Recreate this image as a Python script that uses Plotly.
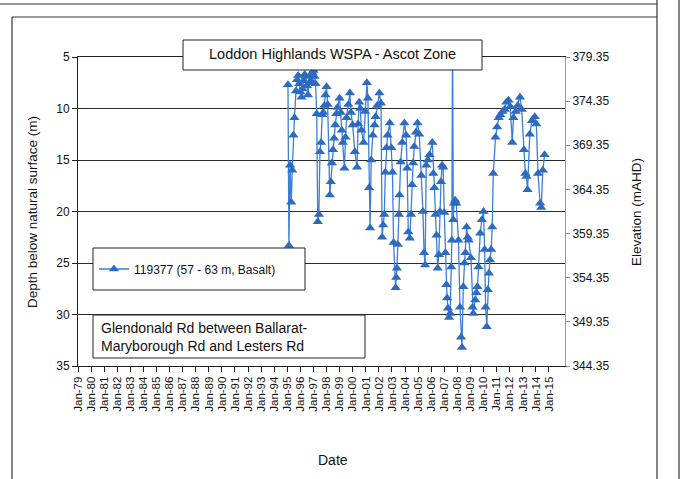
import plotly.graph_objects as go

# ---------------- data ----------------
dates = [
    "1995-01-20", "1995-02-15", "1995-03-20", "1995-04-20", "1995-05-20", "1995-06-20", "1995-07-20",
    "1995-09-01", "1995-10-01", "1995-11-01", "1995-12-01",
    "1996-01-01", "1996-02-01", "1996-03-01", "1996-04-01", "1996-05-01", "1996-06-01", "1996-07-01",
    "1996-08-01", "1996-09-01", "1996-10-01", "1996-11-01", "1996-12-01",
    "1997-01-01", "1997-02-01", "1997-03-01", "1997-04-01", "1997-05-01", "1997-06-01", "1997-07-01",
    "1997-08-01", "1997-09-01", "1997-10-01", "1997-11-01", "1997-12-01",
    "1998-01-01", "1998-02-01", "1998-04-01", "1998-05-01", "1998-06-01", "1998-07-01", "1998-08-01",
    "1998-09-01", "1998-10-01", "1998-11-01",
    "1999-01-01", "1999-02-01", "1999-03-01", "1999-04-01", "1999-05-15", "1999-06-15", "1999-07-15",
    "1999-09-01", "1999-10-15", "1999-11-15",
    "2000-01-01", "2000-03-01", "2000-05-01", "2000-06-01", "2000-07-01", "2000-08-01", "2000-09-01",
    "2000-11-01", "2000-12-15",
    "2001-02-01", "2001-03-01", "2001-04-01", "2001-05-01", "2001-06-01", "2001-07-15", "2001-09-01",
    "2001-10-01", "2001-11-15",
    "2002-01-15", "2002-03-01", "2002-04-01", "2002-05-01", "2002-06-01", "2002-07-01", "2002-08-01",
    "2002-09-01", "2002-11-01", "2002-12-15",
    "2003-01-15", "2003-02-15", "2003-04-15", "2003-05-01", "2003-05-20", "2003-06-15", "2003-07-15",
    "2003-08-01", "2003-09-01", "2003-10-15", "2003-12-15",
    "2004-02-01", "2004-03-01", "2004-04-01", "2004-05-15", "2004-06-15", "2004-07-15", "2004-08-15",
    "2004-09-15", "2004-11-01", "2004-12-15",
    "2005-02-01", "2005-04-01", "2005-05-15", "2005-06-15", "2005-07-15", "2005-08-15", "2005-10-01",
    "2005-11-15",
    "2006-02-01", "2006-03-01", "2006-04-01", "2006-05-01", "2006-06-01", "2006-07-01", "2006-08-01",
    "2006-09-01", "2006-10-01", "2006-11-01", "2006-12-01",
    "2007-01-01", "2007-02-01", "2007-03-01", "2007-03-20", "2007-04-15", "2007-05-15", "2007-06-15",
    "2007-07-15", "2007-08-01", "2007-08-20", "2007-09-10", "2007-10-01", "2007-11-01", "2007-12-01",
    "2008-02-01", "2008-03-15", "2008-04-15", "2008-05-10", "2008-06-15", "2008-07-15", "2008-08-15",
    "2008-09-15", "2008-10-15", "2008-11-15",
    "2009-01-15", "2009-03-01", "2009-03-20", "2009-05-15", "2009-06-15", "2009-07-15", "2009-08-15",
    "2009-10-01", "2009-11-15",
    "2010-01-01", "2010-02-01", "2010-03-01", "2010-04-01", "2010-05-01", "2010-06-01", "2010-07-01",
    "2010-08-01", "2010-09-01", "2010-10-01", "2010-12-01",
    "2011-01-15", "2011-03-01", "2011-04-15", "2011-06-15", "2011-08-15", "2011-10-01", "2011-12-01",
    "2012-01-15", "2012-03-15", "2012-04-15", "2012-06-15", "2012-08-15", "2012-10-15", "2012-12-01",
    "2013-02-01", "2013-03-15", "2013-04-15", "2013-05-15", "2013-07-15", "2013-09-15", "2013-12-01",
    "2014-01-15", "2014-03-01", "2014-05-01", "2014-06-01", "2014-07-15", "2014-09-01",
]

depth_m = [
    7.7, 23.3, 15.5, 19.1, 16.0, 12.6, 10.9,
    8.3, 7.2, 6.8, 7.6,
    8.4, 8.9, 8.1, 7.3, 6.7, 6.9, 7.8,
    8.7, 7.5, 6.8, 7.3, 6.5,
    6.3, 6.9, 7.6, 10.5, 21.0, 20.3, 14.2,
    13.3, 10.6, 10.4, 9.7, 8.7,
    7.9, 9.6, 18.4, 17.1, 15.3, 14.0, 12.9,
    11.6, 10.5, 9.9,
    9.0, 10.4, 12.1, 13.3, 15.8, 12.8, 10.9,
    9.6, 8.5, 10.4,
    11.6, 14.2, 15.7, 11.5, 9.4, 10.0, 12.1,
    13.3, 10.3,
    7.5, 9.0, 17.7, 21.6, 15.0, 12.6, 11.6,
    10.8, 9.7,
    8.5, 9.5, 22.5, 21.3, 20.3, 16.2, 13.8,
    12.6, 11.4, 13.8,
    16.2, 23.0, 27.4, 26.4, 25.5, 23.2, 20.3,
    18.4, 15.2, 13.3, 11.4,
    12.6, 15.8, 22.0, 22.6, 20.3, 17.4, 15.3,
    13.7, 12.3, 11.4,
    12.5, 16.5, 20.0, 24.0, 25.2, 15.5, 15.0,
    14.5,
    13.3, 16.3, 17.7, 20.3, 22.3, 25.5, 24.2,
    20.0, 17.1, 15.5, 15.7,
    20.1, 24.0, 27.1, 28.4, 29.4, 30.3, 29.9,
    25.4, 22.8, 2.0, 20.8, 19.2, 18.9, 19.2,
    22.8, 29.3, 32.2, 33.2, 27.3, 25.0, 24.0,
    21.5, 22.5, 22.8,
    24.5, 29.3, 29.9, 28.6, 27.9, 27.3, 25.4,
    22.1, 20.8,
    20.0, 23.7, 29.3, 31.2, 27.6, 26.0, 24.7,
    23.7, 21.5, 16.3, 12.8,
    11.8, 10.9, 10.6, 10.3, 10.1, 9.4, 9.2,
    9.8, 13.3, 10.9, 10.3, 9.7, 8.9, 10.1,
    14.0, 16.3, 16.6, 17.9, 12.5, 11.2, 10.8,
    11.5, 16.3, 19.2, 19.6, 16.0, 14.5,
]

surface_elevation = 384.35  # mAHD of natural surface (depth 0)

tick_dates = [
    "1979-01-01", "1980-01-01", "1981-01-01", "1982-01-01", "1983-01-01", "1984-01-01",
    "1985-01-01", "1986-01-01", "1987-01-01", "1988-01-01", "1989-01-01", "1990-01-01",
    "1991-01-01", "1992-01-01", "1993-01-01", "1994-01-01", "1995-01-01", "1996-01-01",
    "1997-01-01", "1998-01-01", "1999-01-01", "2000-01-01", "2001-01-01", "2002-01-01",
    "2003-01-01", "2004-01-01", "2005-01-01", "2006-01-01", "2007-01-01", "2008-01-01",
    "2009-01-01", "2010-01-01", "2011-01-01", "2012-01-01", "2013-01-01", "2014-01-01",
    "2015-01-01",
]
tick_labels = [
    "Jan-79", "Jan-80", "Jan-81", "Jan-82", "Jan-83", "Jan-84", "Jan-85", "Jan-86", "Jan-87",
    "Jan-88", "Jan-89", "Jan-90", "Jan-91", "Jan-92", "Jan-93", "Jan-94", "Jan-95", "Jan-96",
    "Jan-97", "Jan-98", "Jan-99", "Jan-00", "Jan-01", "Jan-02", "Jan-03", "Jan-04", "Jan-05",
    "Jan-06", "Jan-07", "Jan-08", "Jan-09", "Jan-10", "Jan-11", "Jan-12", "Jan-13", "Jan-14",
    "Jan-15",
]
depth_ticks = [5, 10, 15, 20, 25, 30, 35]
elev_ticks = [344.35, 349.35, 354.35, 359.35, 364.35, 369.35, 374.35, 379.35]
elev_labels = ["344.35", "349.35", "354.35", "359.35", "364.35", "369.35", "374.35", "379.35"]

series_name = "119377 (57 - 63 m, Basalt)"
title_text = "Loddon Highlands WSPA - Ascot Zone"
note_text = "Glendonald Rd between Ballarat-<br>Maryborough Rd and Lesters Rd"

# ---------------- layout geometry (pixels) ----------------
W, H = 693, 479
ML, MR, MT, MB = 78, 128, 57, 113
PW, PH = W - ML - MR, H - MT - MB


def px(x):
    return (x - ML) / PW


def py(y):
    return (H - MB - y) / PH


FONT = "Liberation Sans, Arial, sans-serif"
BLUE = "#2D6BC1"
LINEBLUE = "#3D7ED6"

fig = go.Figure()
fig.add_trace(go.Scatter(
    x=dates, y=depth_m, name=series_name, mode="lines+markers",
    line=dict(color=LINEBLUE, width=1.3),
    marker=dict(symbol="triangle-up", size=9, color=BLUE),
))
# elevation axis companion (invisible)
fig.add_trace(go.Scatter(
    x=dates, y=[surface_elevation - d for d in depth_m], yaxis="y2", mode="lines",
    line=dict(width=0, color="rgba(0,0,0,0)"), showlegend=False, hoverinfo="skip",
))

shapes = []
line_col = "#333333"
shapes.append(dict(type="line", xref="paper", yref="paper", x0=px(0), x1=px(657), y0=py(4), y1=py(4),
                   line=dict(color=line_col, width=1.2), layer="above"))
shapes.append(dict(type="line", xref="paper", yref="paper", x0=px(657), x1=px(657), y0=py(0), y1=py(479),
                   line=dict(color=line_col, width=1.2), layer="above"))
shapes.append(dict(type="line", xref="paper", yref="paper", x0=px(679), x1=px(679), y0=py(0), y1=py(479),
                   line=dict(color=line_col, width=1.2), layer="above"))
shapes.append(dict(type="line", xref="paper", yref="paper", x0=px(12), x1=px(657), y0=py(17), y1=py(17),
                   line=dict(color=line_col, width=1.2), layer="above"))
shapes.append(dict(type="line", xref="paper", yref="paper", x0=px(12), x1=px(12), y0=py(17), y1=py(479),
                   line=dict(color=line_col, width=1.2), layer="above"))
# title box
shapes.append(dict(type="rect", xref="paper", yref="paper", x0=px(183), x1=px(482), y0=py(70), y1=py(40),
                   fillcolor="white", line=dict(color="#222", width=1), layer="above"))
# legend box
shapes.append(dict(type="rect", xref="paper", yref="paper", x0=px(93), x1=px(305), y0=py(290), y1=py(248),
                   fillcolor="white", line=dict(color="#222", width=1), layer="above"))
# note box
shapes.append(dict(type="rect", xref="paper", yref="paper", x0=px(93), x1=px(365), y0=py(358), y1=py(315),
                   fillcolor="white", line=dict(color="#222", width=1), layer="above"))

annotations = [
    dict(text=title_text, xref="paper", yref="paper", x=px(332), y=py(54), showarrow=False,
         xanchor="center", yanchor="middle", font=dict(size=14.5, color="#111", family=FONT)),
    dict(text=note_text, xref="paper", yref="paper", x=px(99), y=py(337), showarrow=False,
         xanchor="left", yanchor="middle", align="left", font=dict(size=14, color="#111", family=FONT)),
    dict(text="Depth below natural surface (m)", xref="paper", yref="paper", x=px(33), y=py(212),
         showarrow=False, textangle=-90, xanchor="center", yanchor="middle",
         font=dict(size=13.5, color="#111", family=FONT)),
    dict(text="Elevation (mAHD)", xref="paper", yref="paper", x=px(637), y=py(212),
         showarrow=False, textangle=-90, xanchor="center", yanchor="middle",
         font=dict(size=13.5, color="#111", family=FONT)),
    dict(text="Date", xref="paper", yref="paper", x=px(333), y=py(460), showarrow=False,
         xanchor="center", yanchor="middle", font=dict(size=14, color="#111", family=FONT)),
]

fig.update_layout(
    width=W, height=H,
    margin=dict(l=ML, r=MR, t=MT, b=MB, pad=0),
    paper_bgcolor="white", plot_bgcolor="white",
    font=dict(family=FONT, color="#111", size=12),
    showlegend=True,
    legend=dict(x=px(94), y=py(269), xanchor="left", yanchor="middle",
                bgcolor="rgba(0,0,0,0)", borderwidth=0, font=dict(size=12, family=FONT),
                itemwidth=30),
    xaxis=dict(
        type="date", range=["1979-01-01", "2016-03-25"],
        tickmode="array", tickvals=tick_dates, ticktext=tick_labels, tickangle=-90,
        ticks="outside", ticklen=5, tickcolor="#222", tickfont=dict(size=11.5, family=FONT),
        showline=True, linecolor="#222", linewidth=1, mirror=True,
        showgrid=False, zeroline=False,
    ),
    yaxis=dict(
        range=[35, 5], tickmode="array", tickvals=depth_ticks,
        ticks="outside", ticklen=5, tickcolor="#222", tickfont=dict(size=12, family=FONT),
        showline=True, linecolor="#222", linewidth=1,
        showgrid=True, gridcolor="#2a2a2a", gridwidth=1, zeroline=False,
    ),
    yaxis2=dict(
        overlaying="y", side="right", range=[344.35, 379.35],
        tickmode="array", tickvals=elev_ticks, ticktext=elev_labels,
        ticks="outside", ticklen=4, tickcolor="#888", tickfont=dict(size=12, family=FONT),
        showline=True, linecolor="#999", linewidth=1, showgrid=False, zeroline=False,
    ),
    shapes=shapes,
    annotations=annotations,
)

fig.write_html("out.html")
